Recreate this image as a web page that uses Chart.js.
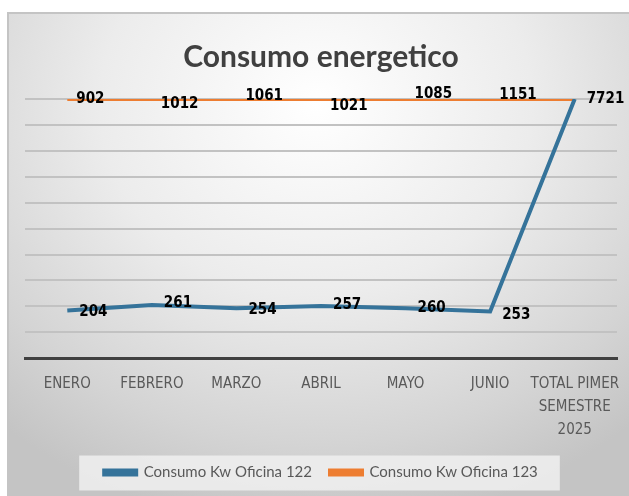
<!DOCTYPE html>
<html>
<head>
<meta charset="utf-8">
<script src="https://cdn.jsdelivr.net/npm/chart.js@4"></script>
<style>
  html, body { margin: 0; padding: 0; background: #fff; overflow: hidden; }
  #marco {
    position: absolute; left: 7px; top: 12px; width: 640px; height: 500px;
    border-left: 2px solid #c4c4c4; border-top: 2px solid #c4c4c4;
    background: radial-gradient(ellipse 75% 85% at 48% 18%, #ffffff 0%, #ececec 45%, #d4d4d4 80%, #c4c4c4 100%);
  }
  #contenedor { position: absolute; left: 0; top: 0; width: 629px; height: 496px; }
</style>
</head>
<body>
<div id="marco"></div>
<div id="contenedor"><canvas id="myChart" width="629" height="496"></canvas></div>
<script>
// Datos del grafico
const meses = ["ENERO", "FEBRERO", "MARZO", "ABRIL", "MAYO", "JUNIO", ["TOTAL PIMER", "SEMESTRE", "2025"]];
const oficina122 = [204, 261, 254, 257, 260, 253, 7721];
const oficina123 = [902, 1012, 1061, 1021, 1085, 1151, 0];

// Desplazamiento vertical de las etiquetas (como en el original)
const ajuste122 = [2, -2, 2, -1, 0, 4, 0];
const ajuste123 = [0, 5, -3, 7, -5, -4, 0];

// Grafico 100% apilado: cada serie como parte del total de cada mes
const totales = oficina122.map((v, i) => v + oficina123[i]);
const parte122 = oficina122.map((v, i) => v / totales[i]);
const parte123 = oficina123.map((v, i) => v / totales[i]);

const fuenteNum = '"Liberation Sans Narrow", "DejaVu Sans Condensed", sans-serif';

// Etiquetas de valores
const etiquetas = {
  id: 'etiquetas',
  afterDatasetsDraw(chart) {
    const ctx = chart.ctx;
    ctx.save();
    ctx.font = 'bold 15px ' + fuenteNum;
    ctx.fillStyle = '#000';
    ctx.textBaseline = 'middle';
    ctx.textAlign = 'left';
    chart.data.datasets.forEach((ds, i) => {
      const meta = chart.getDatasetMeta(i);
      meta.data.forEach((pt, j) => {
        const v = ds.valores[j];
        if (!v) return;
        ctx.fillText(String(v), pt.x + ds.dx, pt.y + ds.ajuste[j]);
      });
    });
    ctx.restore();
  }
};

// Caja de fondo de la leyenda
const fondoLeyenda = {
  id: 'fondoLeyenda',
  beforeDraw(chart) {
    const lg = chart.legend;
    if (!lg || !lg.legendHitBoxes.length) return;
    const boxes = lg.legendHitBoxes;
    const x0 = boxes[0].left - 25;
    const x1 = boxes[boxes.length - 1].left + boxes[boxes.length - 1].width + 22;
    const cy = boxes[0].top + boxes[0].height / 2;
    const ctx = chart.ctx;
    ctx.save();
    ctx.fillStyle = 'rgba(240,240,240,0.85)';
    ctx.fillRect(x0, cy - 17, x1 - x0, 35);
    ctx.restore();
  }
};

const ctx = document.getElementById('myChart').getContext('2d');
new Chart(ctx, {
  type: 'line',
  data: {
    labels: meses,
    datasets: [
      {
        label: "Consumo Kw Oficina 122",
        data: parte122,
        valores: oficina122,
        ajuste: ajuste122,
        dx: 12,
        borderColor: "#35739a",
        backgroundColor: "#35739a",
        borderWidth: 4,
        pointRadius: 0,
        tension: 0,
        fill: false
      },
      {
        label: "Consumo Kw Oficina 123",
        data: parte123,
        valores: oficina123,
        ajuste: ajuste123,
        dx: 9,
        borderColor: "#ed7d31",
        backgroundColor: "#ed7d31",
        borderWidth: 4,
        pointRadius: 0,
        tension: 0,
        fill: false
      }
    ]
  },
  options: {
    responsive: false,
    animation: false,
    layout: { padding: { left: 25, right: 12, top: 0, bottom: 6 } },
    scales: {
      x: {
        offset: true,
        grid: { display: false },
        border: { display: true, color: "#404040", width: 3 },
        ticks: {
          color: "#595959",
          padding: 6,
          maxRotation: 0,
          autoSkip: false,
          font: { size: 15, family: fuenteNum, lineHeight: 1.55 }
        },
        afterFit(scale) { scale.height -= 1; }
      },
      y: {
        stacked: true,
        min: 0,
        max: 1,
        display: true,
        border: { display: false },
        grid: { color: "#c2c2c2", lineWidth: 2, drawTicks: false },
        ticks: { display: false, stepSize: 0.1 }
      }
    },
    plugins: {
      title: {
        display: true,
        text: "Consumo energetico",
        color: "#404040",
        font: { size: 30, family: "Lato", weight: "bold" },
        padding: { top: 39, bottom: 24 }
      },
      legend: {
        position: "bottom",
        labels: {
          color: "#595959",
          boxWidth: 32,
          boxHeight: 4,
          padding: 18,
          font: { size: 15, family: "Lato" }
        }
      },
      tooltip: { enabled: false }
    }
  },
  plugins: [fondoLeyenda, etiquetas]
});
</script>
</body>
</html>
